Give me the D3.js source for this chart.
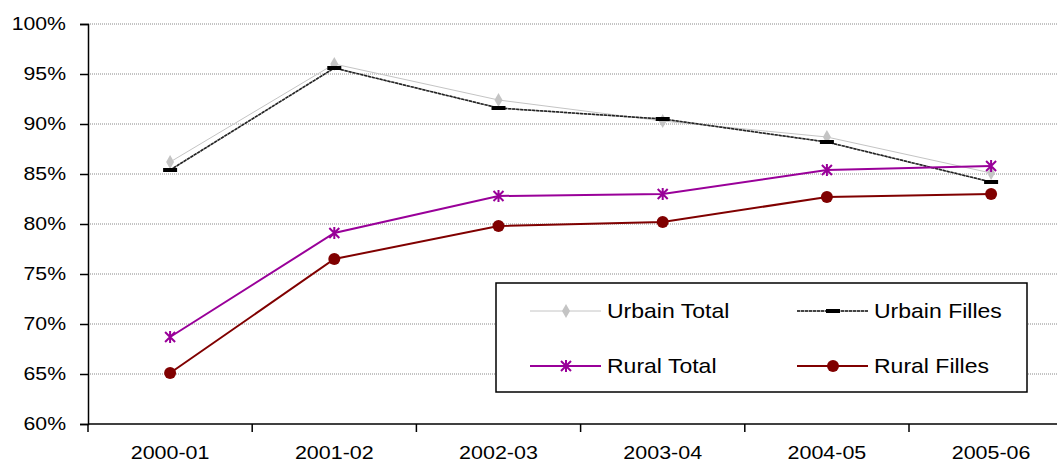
<!DOCTYPE html>
<html><head><meta charset="utf-8">
<script src="https://cdn.jsdelivr.net/npm/d3@7/dist/d3.min.js"></script>
<style>
body { margin: 0; background: #fff; }
text { font-family: "Liberation Sans", Arial, sans-serif; }
</style></head>
<body>
<svg width="1057" height="462"></svg>
<script>
const years = ["2000-01", "2001-02", "2002-03", "2003-04", "2004-05", "2005-06"];
const urbainTotal = [86.2, 96.0, 92.4, 90.3, 88.7, 85.1];
const urbainFilles = [85.4, 95.6, 91.6, 90.5, 88.2, 84.2];
const ruralTotal = [68.7, 79.1, 82.8, 83.0, 85.4, 85.8];
const ruralFilles = [65.1, 76.5, 79.8, 80.2, 82.7, 83.0];
const yTicks = [60, 65, 70, 75, 80, 85, 90, 95, 100];

const svg = d3.select("svg");
const plotLeft = 88, plotTop = 24, plotBottom = 424;

let x = d3.scaleBand().domain(years).range([plotLeft, plotLeft + 6 * 164.2]);
let y = d3.scaleLinear().domain([60, 100]).range([plotBottom, plotTop]);

// gridlines
svg.append("g").selectAll("line").data(yTicks.filter(d => d > 60)).enter()
  .append("line")
  .attr("x1", plotLeft).attr("x2", 1057)
  .attr("y1", d => y(d)).attr("y2", d => y(d))
  .attr("stroke", "#888").attr("stroke-width", 1).attr("stroke-dasharray", "1,1");

// y axis
let yAxis = d3.axisLeft(y).tickValues(yTicks).tickFormat(d => d + "%").tickSize(8);
let gy = svg.append("g").attr("transform", "translate(" + plotLeft + ",0)").call(yAxis);
gy.select(".domain").attr("stroke", "#000").attr("stroke-width", 1.5);
gy.selectAll(".tick line").attr("stroke", "#000").attr("stroke-width", 1.5);
// text is stretched wide in the original
gy.selectAll("text").style("font-size", "18px").attr("fill", "#000")
  .attr("x", 0).attr("transform", "translate(-22,0) scale(1.18,1)");

// x axis - ticks between categories
let gx = svg.append("g").attr("transform", "translate(0," + plotBottom + ")");
gx.append("line").attr("x1", plotLeft).attr("x2", 1057).attr("stroke", "#000").attr("stroke-width", 1.5);
gx.selectAll(".xt").data(years).enter().append("line")
  .attr("x1", d => x(d)).attr("x2", d => x(d))
  .attr("y1", 0).attr("y2", 8).attr("stroke", "#000").attr("stroke-width", 1.5);
gx.selectAll(".xl").data(years).enter().append("text")
  .attr("transform", d => "translate(" + (x(d) + x.bandwidth() / 2) + ",35) scale(1.13,1)")
  .attr("text-anchor", "middle").style("font-size", "19px").text(d => d);

const cx = (d, i) => x(years[i]) + x.bandwidth() / 2;
const line = d3.line().x((d, i) => cx(d, i)).y(d => y(d));

function diamond(g, s) {
  g.append("path").attr("d", d3.symbol().type(d3.symbolDiamond).size(55)).attr("fill", s.color);
}
function dash(g, s) {
  g.append("rect").attr("x", -7).attr("y", -2).attr("width", 14).attr("height", 4).attr("fill", "#000");
}
function star(g, s) {
  g.append("path").attr("d", "M-5,-5L5,5M-5,5L5,-5M0,-6L0,6").attr("stroke", s.color).attr("stroke-width", 2);
}
function dot(g, s) {
  g.append("circle").attr("r", 6).attr("fill", s.color);
}

const series = [
  { name: "Urbain Total", values: urbainTotal, color: "#c4c4c4", width: 1, dash: null, marker: diamond },
  { name: "Urbain Filles", values: urbainFilles, color: "#222", width: 1.5, dash: "3,1", marker: dash },
  { name: "Rural Total", values: ruralTotal, color: "#990099", width: 2, dash: null, marker: star },
  { name: "Rural Filles", values: ruralFilles, color: "#800000", width: 2, dash: null, marker: dot }
];

series.forEach(s => {
  if (s.dash) {
    // gray underlay under the dotted black line
    svg.append("path").datum(s.values).attr("d", line)
      .attr("fill", "none").attr("stroke", "#999").attr("stroke-width", 1.5);
  }
  svg.append("path").datum(s.values).attr("d", line)
    .attr("fill", "none").attr("stroke", s.color).attr("stroke-width", s.width)
    .attr("stroke-dasharray", s.dash);
  s.values.forEach((v, i) => {
    let g = svg.append("g").attr("transform", "translate(" + cx(v, i) + "," + y(v) + ")");
    s.marker(g, s);
  });
});

// legend
let lg = svg.append("g");
lg.append("rect").attr("x", 496).attr("y", 283).attr("width", 531).attr("height", 109)
  .attr("fill", "#fff").attr("stroke", "#000").attr("stroke-width", 1.5);
const legPos = [[530, 311], [797, 311], [530, 366], [797, 366]];
series.forEach((s, i) => {
  let [lx, ly] = legPos[i];
  if (s.dash) {
    lg.append("line").attr("x1", lx).attr("x2", lx + 71).attr("y1", ly).attr("y2", ly)
      .attr("stroke", "#999").attr("stroke-width", 1.5);
  }
  lg.append("line").attr("x1", lx).attr("x2", lx + 71).attr("y1", ly).attr("y2", ly)
    .attr("stroke", s.color).attr("stroke-width", s.width).attr("stroke-dasharray", s.dash);
  let g = lg.append("g").attr("transform", "translate(" + (lx + 36) + "," + ly + ")");
  s.marker(g, s);
  lg.append("text").attr("transform", "translate(" + (lx + 77) + "," + (ly + 7) + ") scale(1.15,1)")
    .style("font-size", "20px").text(s.name);
});
</script>
</body></html>
